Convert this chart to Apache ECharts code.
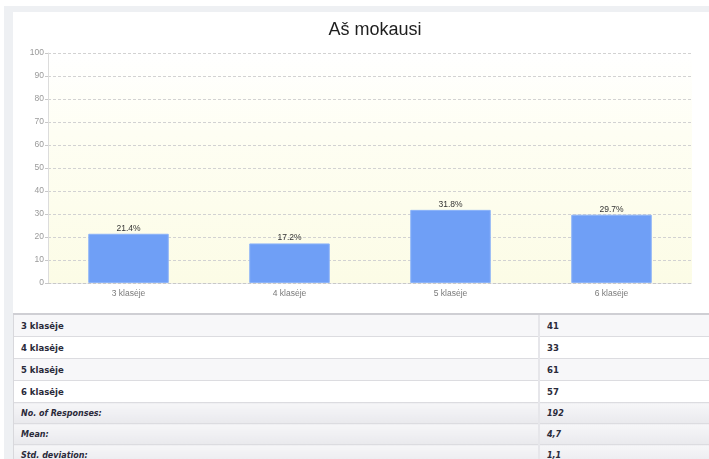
<!DOCTYPE html>
<html>
<head>
<meta charset="utf-8">
<script src="https://cdn.jsdelivr.net/npm/echarts@6/dist/echarts.min.js"></script>
<style>
  html, body { margin: 0; padding: 0; background: #ffffff; width: 709px; height: 459px; overflow: hidden; }
  #frame { position: absolute; left: 4px; top: 6px; width: 705px; height: 453px; background: #eef0f3; }
  #panel { position: absolute; left: 13px; top: 12px; width: 696px; height: 447px; background: #ffffff; }
  #chart { position: absolute; left: 0; top: 0; width: 709px; height: 310px; }
  #stats { position: absolute; left: 13px; top: 313px; width: 696px; border-collapse: collapse;
           font-family: "DejaVu Sans", Verdana, sans-serif; font-size: 8.5px; font-weight: bold; color: #2a2a3a; }
  #stats td { padding: 0 0 0 7px; border-top: 1px solid #dcdce0; height: 21px; }
  #stats tr:first-child td { border-top: 2px solid #cfcfd4; }
  #stats td:first-child { border-left: 1px solid #d8d8dc; width: 517px; }
  #stats td:last-child { border-left: 2px solid #e6e6ea; }
  #stats tr.odd td { background: #f7f7f9; }
  #stats tr.even td { background: #ffffff; }
  #stats tr.sum td { background: linear-gradient(#f6f6f8, #e9e9ed); font-style: italic; font-size: 8px; height: 20px; }
</style>
</head>
<body>
<div id="frame"></div>
<div id="panel"></div>
<div id="chart"></div>
<table id="stats"></table>
<script>
// Survey question: grade of the respondent
const titleText = 'Aš mokausi';
const categories = ['3 klasėje', '4 klasėje', '5 klasėje', '6 klasėje'];
const counts = [41, 33, 61, 57];
const percents = [21.4, 17.2, 31.8, 29.7];
const summaryLabels = ['No. of Responses:', 'Mean:', 'Std. deviation:'];
const summaryValues = ['192', '4,7', '1,1'];
const yTicks = { min: 0, max: 100, interval: 10 };

const chart = echarts.init(document.getElementById('chart'), null, { renderer: 'canvas' });

chart.setOption({
  backgroundColor: 'transparent',
  animation: false,
  title: {
    text: titleText,
    left: 370,
    top: 16,
    textAlign: 'center',
    textStyle: { fontFamily: 'Liberation Sans, Arial, sans-serif', fontSize: 18, fontWeight: 'normal', color: '#1e1e1e' }
  },
  grid: {
    left: 48, right: 17, top: 53, bottom: 27,
    show: true,
    borderWidth: 0,
    backgroundColor: new echarts.graphic.LinearGradient(0, 0, 0, 1, [
      { offset: 0, color: '#ffffff' },
      { offset: 0.35, color: '#fefef3' },
      { offset: 1, color: '#fcfce6' }
    ])
  },
  xAxis: {
    type: 'category',
    data: categories,
    axisLine: { show: true, lineStyle: { color: '#c8c8c8', type: [3, 2], width: 1 } },
    axisTick: { show: false },
    axisLabel: { color: '#7a7a7a', fontSize: 8.5, fontFamily: 'Liberation Sans, Arial, sans-serif', margin: 6 }
  },
  yAxis: {
    type: 'value',
    min: yTicks.min, max: yTicks.max, interval: yTicks.interval,
    axisLine: { show: true, lineStyle: { color: '#dcdcdc', width: 1 } },
    axisTick: { show: true, length: 3, lineStyle: { color: '#c8c8c8' } },
    axisLabel: { color: '#9a9a9a', fontSize: 8.5, fontFamily: 'Liberation Sans, Arial, sans-serif', margin: 4 },
    splitLine: { show: true, lineStyle: { color: '#d2d2d2', type: [3, 2], width: 1 } }
  },
  series: [{
    type: 'bar',
    data: percents,
    barWidth: '50%',
    itemStyle: { color: '#6f9ff6', borderColor: '#8cb3f8', borderWidth: 1 },
    label: {
      show: true,
      position: 'top',
      distance: 1,
      formatter: p => p.value.toFixed(1) + '%',
      color: '#333333',
      fontSize: 8.5,
      fontFamily: 'Liberation Sans, Arial, sans-serif'
    }
  }]
});

// Response table under the chart
const table = document.getElementById('stats');
function addRow(label, value, cls) {
  const tr = document.createElement('tr');
  tr.className = cls;
  const a = document.createElement('td');
  a.textContent = label;
  const b = document.createElement('td');
  b.textContent = value;
  tr.appendChild(a);
  tr.appendChild(b);
  table.appendChild(tr);
}
categories.forEach((c, i) => addRow(c, String(counts[i]), i % 2 === 0 ? 'odd' : 'even'));
summaryLabels.forEach((l, i) => addRow(l, summaryValues[i], 'sum'));
</script>
</body>
</html>
